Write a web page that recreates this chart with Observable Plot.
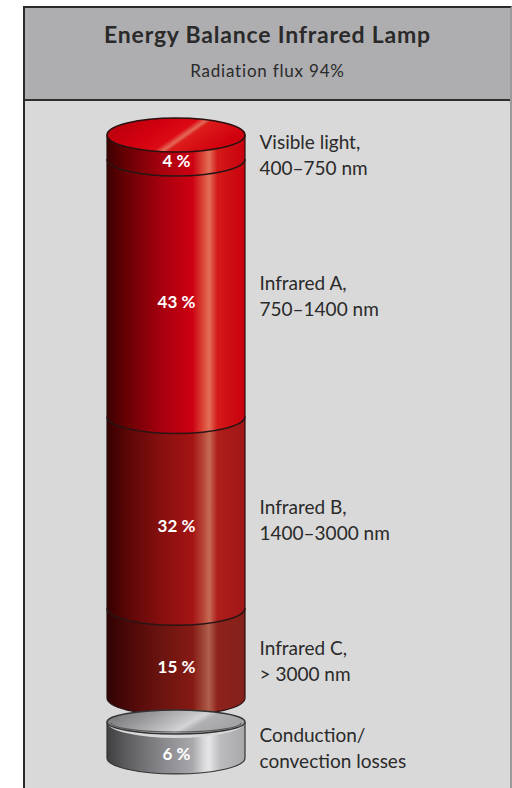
<!DOCTYPE html>
<html><head><meta charset="utf-8">
<script src="https://cdn.jsdelivr.net/npm/d3@7"></script>
<script src="https://cdn.jsdelivr.net/npm/@observablehq/plot@0.6"></script>
<style>
html,body{margin:0;padding:0;background:#fff;}
body{width:512px;height:788px;overflow:hidden;position:relative;font-family:Lato,"Open Sans",sans-serif;}
#frame{position:absolute;left:23px;top:6px;width:485px;height:782px;border-left:2px solid #2a2a2a;border-top:2px solid #2a2a2a;border-right:2px solid #9a9a9a;background:#d9d9d9;}
#header{height:91px;background:#aeaeb1;border-bottom:2px solid #2f2f2f;text-align:center;color:#2a2a2a;}
#title{font-weight:700;font-size:23px;padding-top:12px;line-height:28px;letter-spacing:0.8px;}
#subtitle{font-size:17px;margin-top:12px;line-height:22px;letter-spacing:0.8px;}
#chart svg{display:block;}
</style></head>
<body>
<div id="frame">
  <div id="header"><div id="title"></div><div id="subtitle"></div></div>
  <div id="chart"></div>
</div>
<script>
// ---- data ----
const title = "Energy Balance Infrared Lamp";
const subtitle = "Radiation flux 94%";
const bands = ["Visible light,", "Infrared A,", "Infrared B,", "Infrared C,"];
const ranges = ["400–750 nm", "750–1400 nm", "1400–3000 nm", "> 3000 nm"];
const shares = [4, 43, 32, 15];
const lossLabel = ["Conduction/", "convection losses"];
const lossShare = 6;

document.getElementById("title").textContent = title;
document.getElementById("subtitle").textContent = subtitle;

// ---- layout (style) ----
const gap = 4;            // visual gap between red column and grey disc (in % units)
const ryRed = 17, ryGrey = 12;
const redGrad = [
  [["0", "#3e0000"], ["0.15", "#6a0004"], ["0.4", "#a8000e"], ["0.62", "#cc0012"], ["0.7", "#dc4a38"], ["0.74", "#e2705a"], ["0.8", "#d41a18"], ["1", "#c8000e"]],
  [["0", "#3e0000"], ["0.15", "#6a0004"], ["0.4", "#a8000e"], ["0.62", "#cc0012"], ["0.7", "#dc4a38"], ["0.74", "#e2705a"], ["0.8", "#d41a18"], ["1", "#c8000e"]],
  [["0", "#360000"], ["0.15", "#5c0606"], ["0.4", "#88100f"], ["0.62", "#a51414"], ["0.7", "#b8483a"], ["0.74", "#c66a56"], ["0.8", "#ae1e1a"], ["1", "#a01616"]],
  [["0", "#300303"], ["0.15", "#4c0808"], ["0.4", "#6c1410"], ["0.62", "#861a14"], ["0.7", "#a04838"], ["0.74", "#b0604c"], ["0.8", "#8e221c"], ["1", "#84201a"]]
];
const greyGrad = [["0", "#404042"], ["0.15", "#5e5e61"], ["0.4", "#88888c"], ["0.62", "#a8a8ac"], ["0.7", "#d8d8da"], ["0.74", "#e6e6e8"], ["0.82", "#bcbcbf"], ["1", "#a8a8ab"]];

const cum = d3.cumsum(shares);
const segments = bands.map((b, i) => ({
  label: b + "\n" + ranges[i],
  value: shares[i],
  y1: cum[i] - shares[i],
  y2: cum[i]
}));
const redTotal = cum[cum.length - 1];
const loss = {label: lossLabel.join("\n"), value: lossShare, y1: redTotal + gap, y2: redTotal + gap + lossShare};
const all = [...segments, loss];

function cylinder(index, scales) {
  const x = scales.x, y = scales.y;
  const x0 = x(0), x1 = x(1), cx = (x0 + x1) / 2, rx = (x1 - x0) / 2;
  const g = d3.create("svg:g");
  const defs = g.append("defs");
  const addGrad = (id, stops, x2 = 1, y2 = 0) => {
    const lg = defs.append("linearGradient").attr("id", id).attr("x1", 0).attr("y1", 0).attr("x2", x2).attr("y2", y2);
    stops.forEach(([o, c]) => lg.append("stop").attr("offset", o).attr("stop-color", c));
  };
  redGrad.forEach((s, i) => addGrad("seg" + i, s));
  addGrad("grey", greyGrad);
  addGrad("cap", [["0", "#b0000c"], ["0.4", "#d2000f"], ["0.6", "#dc0a14"], ["0.66", "#e46a58"], ["0.7", "#dc1c1a"], ["1", "#d0000e"]], 1, 0.35);
  addGrad("greycap", [["0", "#6e6e71"], ["0.35", "#9a9a9d"], ["0.62", "#c4c4c6"], ["0.7", "#d4d4d6"], ["0.78", "#b0b0b3"], ["1", "#a4a4a7"]], 1, 0.3);
  const body = (yt, yb, ry) =>
    `M${x0},${yt}L${x0},${yb}A${rx},${ry} 0 0 0 ${x1},${yb}L${x1},${yt}A${rx},${ry} 0 0 1 ${x0},${yt}Z`;
  const lower = (yc, ry) => `M${x0},${yc}A${rx},${ry} 0 0 0 ${x1},${yc}`;

  segments.forEach((s, i) => {
    g.append("path").attr("d", body(y(s.y1), y(s.y2), ryRed)).attr("fill", `url(#seg${i})`);
  });
  g.append("path")
    .attr("d", `M${x0},${y(0)}L${x0},${y(redTotal)}A${rx},${ryRed} 0 0 0 ${x1},${y(redTotal)}L${x1},${y(0)}`)
    .attr("fill", "none").attr("stroke", "#2a1010").attr("stroke-width", 1.2);
  segments.slice(1).forEach(s => {
    g.append("path").attr("d", lower(y(s.y1), ryRed)).attr("fill", "none").attr("stroke", "#2a1414").attr("stroke-width", 1.6);
  });
  g.append("ellipse").attr("cx", cx).attr("cy", y(0)).attr("rx", rx).attr("ry", ryRed)
    .attr("fill", "url(#cap)").attr("stroke", "#2a1010").attr("stroke-width", 1.6);

  const gt = y(loss.y1), gb = y(loss.y2);
  g.append("path").attr("d", body(gt, gb, ryGrey + 4)).attr("fill", "url(#grey)");
  g.append("path")
    .attr("d", `M${x0},${gt}L${x0},${gb}A${rx},${ryGrey + 4} 0 0 0 ${x1},${gb}L${x1},${gt}`)
    .attr("fill", "none").attr("stroke", "#333").attr("stroke-width", 1.2);
  g.append("ellipse").attr("cx", cx).attr("cy", gt).attr("rx", rx).attr("ry", ryGrey)
    .attr("fill", "url(#greycap)").attr("stroke", "#333").attr("stroke-width", 1.4);
  g.append("path").attr("d", `M${x0 + 4},${gt + 1}A${rx - 4},${ryGrey - 3} 0 0 0 ${x1 - 4},${gt + 1}`)
    .attr("fill", "none").attr("stroke", "#5a5a5d").attr("stroke-width", 1.2);
  return g.node();
}

const chart = Plot.plot({
  width: 485,
  height: 687,
  margin: 0,
  style: {background: "transparent", overflow: "visible"},
  x: {domain: [0, 1], range: [82, 220], axis: null},
  y: {domain: [0, redTotal + gap + lossShare], range: [34, 34 + (redTotal + gap + lossShare) * 5.99], axis: null},
  marks: [
    cylinder,
    Plot.text(all, {
      x: 0.5, y: d => (d.y1 + d.y2) / 2, dy: 14,
      text: d => d.value + " %",
      fill: "white", fontWeight: "bold", fontSize: 17,
      fontFamily: "Lato, sans-serif"
    }),
    Plot.text(all, {
      x: 1, y: d => (d.y1 + d.y2) / 2, dx: 14, dy: 6,
      text: "label", textAnchor: "start", lineAnchor: "middle", lineHeight: 1.37,
      fill: "#2a2a2a", fontSize: 19, fontFamily: "Lato, sans-serif"
    })
  ]
});
document.getElementById("chart").appendChild(chart);
</script>
</body></html>
